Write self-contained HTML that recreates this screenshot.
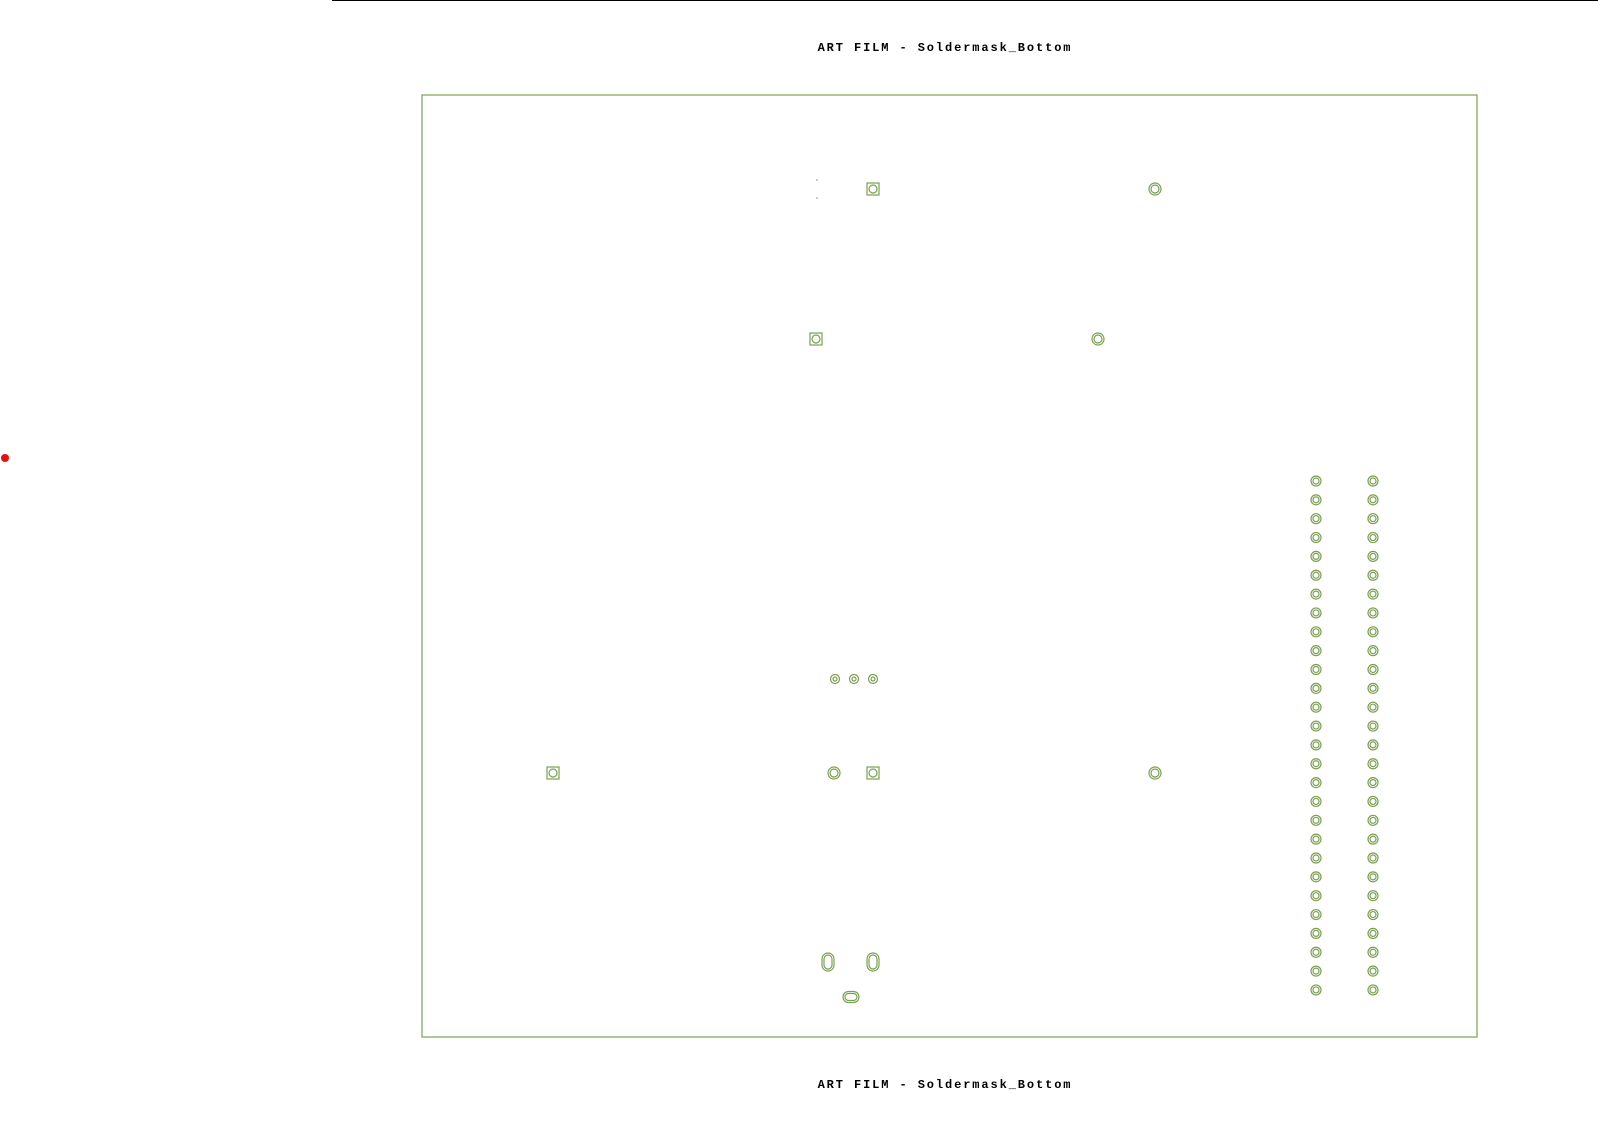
<!DOCTYPE html>
<html><head><meta charset="utf-8"><style>
html,body{margin:0;padding:0;background:#fff;}
svg{display:block;}
text{font-family:"Liberation Mono",monospace;font-weight:bold;font-size:12px;letter-spacing:1.9px;fill:#000;}
</style></head><body>
<svg id="c" width="1598" height="1146" xmlns="http://www.w3.org/2000/svg">
<line x1="332" y1="0.5" x2="1598" y2="0.5" stroke="#000" stroke-width="1"/>
<text x="945" y="51" text-anchor="middle">ART FILM - Soldermask_Bottom</text>
<text x="945" y="1088" text-anchor="middle">ART FILM - Soldermask_Bottom</text>
<circle cx="5" cy="458" r="4" fill="#e81010"/>
<rect x="422" y="95" width="1055" height="942" fill="none" stroke="#7aa050" stroke-width="1.2"/>
<circle cx="817" cy="180" r="0.8" fill="#7aa050"/>
<circle cx="817" cy="198" r="0.8" fill="#7aa050"/>
<g id="pads"></g>
</svg>
<script>
const squarePadsX=[873,816,553,873];
const squarePadsY=[189,339,773,773];
const roundPadsX=[1155,1098,834,1155];
const roundPadsY=[189,339,773,773];
const smallViasX=[835,854,873];
const smallViasY=[679,679,679];
const headerCols=[1316,1373];
const headerRowCount=28;
const headerTop=481, headerPitch=18.85;
const ovalPadsX=[828,873,851];
const ovalPadsY=[962,962,997];
const ovalVertical=[true,true,false];

const NS='http://www.w3.org/2000/svg';
const g=document.getElementById('pads');
const C='#7aa050';
function mk(tag,attrs){const e=document.createElementNS(NS,tag);for(const k in attrs)e.setAttribute(k,attrs[k]);g.appendChild(e);return e;}
function ring(x,y,r1,r2){
  const a=mk('circle',{cx:x,cy:y,r:r1,fill:'none',stroke:C,'stroke-width':1.2});
  
  
  const b=mk('circle',{cx:x,cy:y,r:r2,fill:'none',stroke:C,'stroke-width':1.2});
  
  
}
for(let i=0;i<squarePadsX.length;i++){
  const x=squarePadsX[i],y=squarePadsY[i];
  const s=mk('rect',{x:x-6,y:y-6,width:12,height:12,fill:'none',stroke:C,'stroke-width':1.2});
  
  
  const c=mk('circle',{cx:x,cy:y,r:4,fill:'none',stroke:C,'stroke-width':1.2});
  
  
}
for(let i=0;i<roundPadsX.length;i++) ring(roundPadsX[i],roundPadsY[i],6,4);
for(let i=0;i<smallViasX.length;i++) ring(smallViasX[i],smallViasY[i],4.5,2);
for(const x of headerCols){
  for(let r=0;r<headerRowCount;r++) ring(x,headerTop+r*headerPitch,5,3);
}
for(let i=0;i<ovalPadsX.length;i++){
  const x=ovalPadsX[i],y=ovalPadsY[i],v=ovalVertical[i];
  const w=v?12:16,h=v?18:11;
  const o=mk('rect',{x:x-w/2,y:y-h/2,width:w,height:h,rx:Math.min(w,h)/2,fill:'none',stroke:C,'stroke-width':1.2});
  
  
  const w2=w-4,h2=h-4;
  const p=mk('rect',{x:x-w2/2,y:y-h2/2,width:w2,height:h2,rx:Math.min(w2,h2)/2,fill:'none',stroke:C,'stroke-width':1.2});
  
  
}
</script>
</body></html>
